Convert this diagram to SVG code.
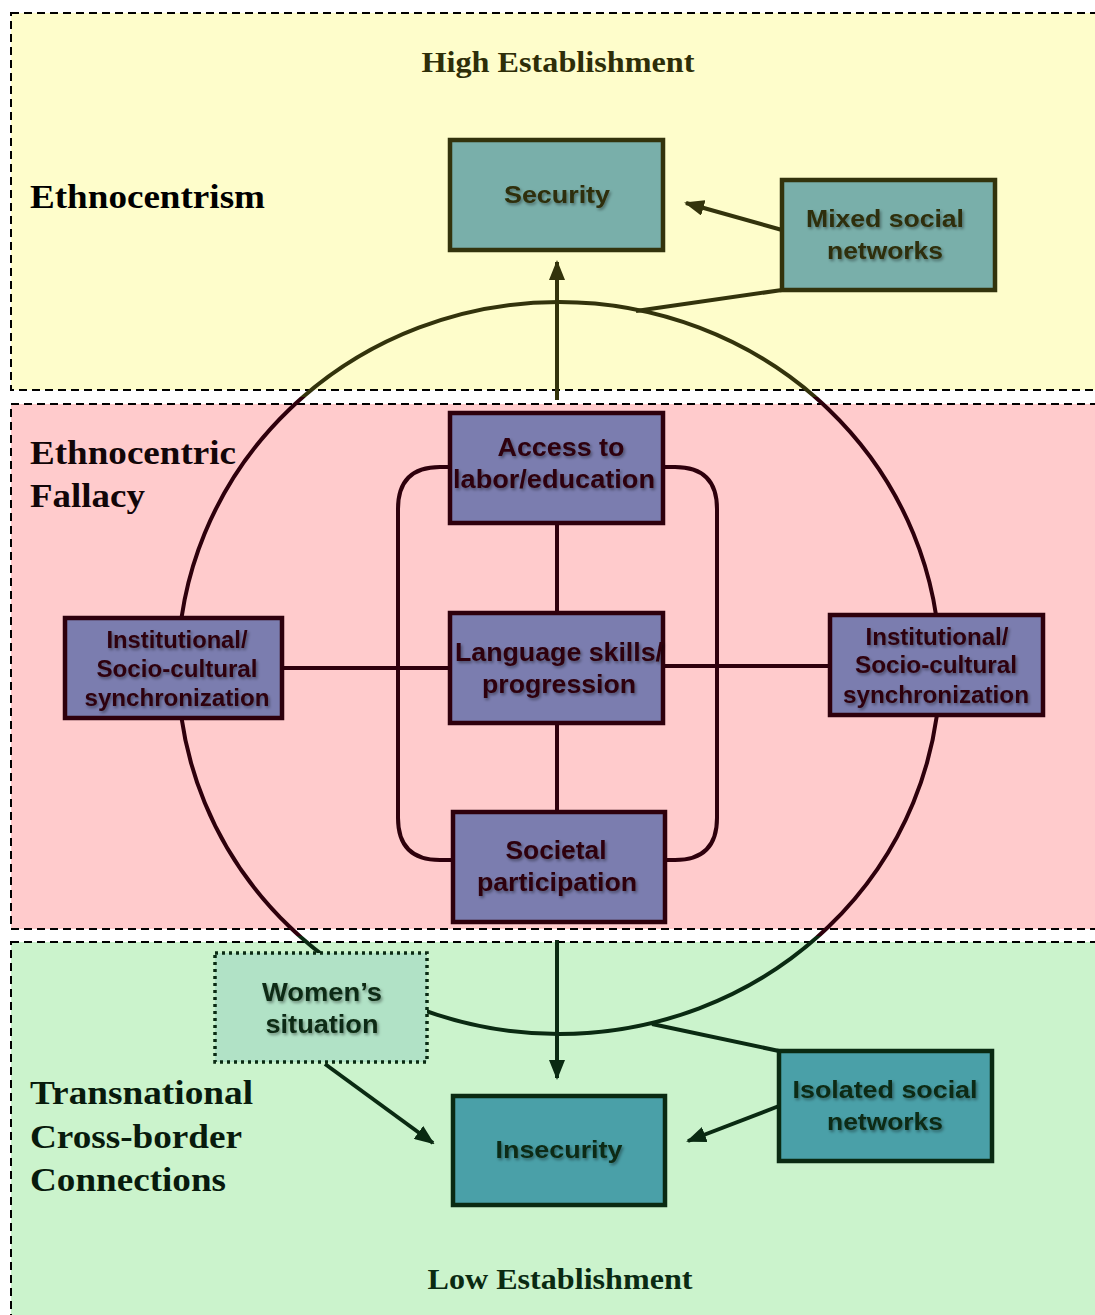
<svg xmlns="http://www.w3.org/2000/svg" width="1095" height="1315" viewBox="0 0 1095 1315">
<style>
.band{stroke:#000;stroke-width:2;stroke-dasharray:8 5}
.lbl{font-family:"Liberation Serif","Times New Roman",serif;font-weight:bold}
.nt{font-family:"Liberation Sans",Arial,sans-serif;font-weight:bold;text-anchor:middle;filter:url(#sh)}
.box{stroke-width:4.5}
.yb{fill:#79AFAA;stroke:#33330C}
.pb{fill:#7B7DAF;stroke:#2E000C}
.gb{fill:#4AA0A8;stroke:#0A2A12}
.ln{fill:none;stroke-width:4}
</style>
<defs>
<filter id="sh" x="-10%" y="-30%" width="120%" height="160%">
<feDropShadow dx="1.5" dy="2" stdDeviation="1.5" flood-color="#000" flood-opacity="0.4"/>
</filter>
<marker id="ay" markerUnits="userSpaceOnUse" markerWidth="20" markerHeight="16" refX="18" refY="8" orient="auto"><path d="M0,0 L20,8 L0,16 z" fill="#33330C"/></marker>
<marker id="ag" markerUnits="userSpaceOnUse" markerWidth="20" markerHeight="16" refX="18" refY="8" orient="auto"><path d="M0,0 L20,8 L0,16 z" fill="#0A2A12"/></marker>
<clipPath id="cy"><rect x="0" y="0" width="1095" height="397"/></clipPath>
<clipPath id="cp"><rect x="0" y="397" width="1095" height="539"/></clipPath>
<clipPath id="cg"><rect x="0" y="936" width="1095" height="400"/></clipPath>
</defs>

<g id="bands">
<rect class="band" x="11" y="13" width="1100" height="377" fill="#FEFDCB"/>
<rect class="band" x="11" y="404" width="1100" height="525" fill="#FFCBCC"/>
<rect class="band" x="11" y="942" width="1100" height="390" fill="#CBF3CC"/>
</g>

<g id="labels">
<text class="lbl" x="558" y="72" font-size="30" text-anchor="middle" fill="#2E2E08" textLength="273" lengthAdjust="spacingAndGlyphs">High Establishment</text>
<text class="lbl" x="30" y="208" font-size="34" fill="#000" textLength="235" lengthAdjust="spacingAndGlyphs">Ethnocentrism</text>
<text class="lbl" x="30" y="464" font-size="34" fill="#120608" textLength="206" lengthAdjust="spacingAndGlyphs">Ethnocentric</text>
<text class="lbl" x="30" y="507" font-size="34" fill="#120608" textLength="115" lengthAdjust="spacingAndGlyphs">Fallacy</text>
<text class="lbl" x="30" y="1104" font-size="34" fill="#081A0C" textLength="223" lengthAdjust="spacingAndGlyphs">Transnational</text>
<text class="lbl" x="30" y="1148" font-size="34" fill="#081A0C" textLength="212" lengthAdjust="spacingAndGlyphs">Cross-border</text>
<text class="lbl" x="30" y="1191" font-size="34" fill="#081A0C" textLength="196" lengthAdjust="spacingAndGlyphs">Connections</text>
<text class="lbl" x="560" y="1289" font-size="30" text-anchor="middle" fill="#0A2A12" textLength="265" lengthAdjust="spacingAndGlyphs">Low Establishment</text>
</g>

<g id="connectors">
<g id="circle" fill="none" stroke-width="4">
<ellipse cx="559" cy="668" rx="381" ry="366" stroke="#33330C" clip-path="url(#cy)"/>
<ellipse cx="559" cy="668" rx="381" ry="366" stroke="#2E000C" clip-path="url(#cp)"/>
<ellipse cx="559" cy="668" rx="381" ry="366" stroke="#0A2A12" clip-path="url(#cg)"/>
</g>
<path class="ln" stroke="#2E000C" d="M450,467 H440 Q398,467 398,509 V818 Q398,860 440,860 H453"/>
<path class="ln" stroke="#2E000C" d="M663,467 H675 Q717,467 717,509 V818 Q717,860 675,860 H665"/>
<line class="ln" stroke="#2E000C" x1="557" y1="523" x2="557" y2="613"/>
<line class="ln" stroke="#2E000C" x1="557" y1="723" x2="557" y2="812"/>
<line class="ln" stroke="#2E000C" x1="282" y1="668" x2="450" y2="668"/>
<line class="ln" stroke="#2E000C" x1="663" y1="666" x2="830" y2="666"/>
<line class="ln" stroke="#33330C" x1="557" y1="400" x2="557" y2="262" marker-end="url(#ay)"/>
<line class="ln" stroke="#33330C" x1="782" y1="230" x2="686" y2="203" marker-end="url(#ay)"/>
<line class="ln" stroke="#33330C" x1="782" y1="290" x2="636" y2="311"/>
<line class="ln" stroke="#0A2A12" x1="557" y1="940" x2="557" y2="1078" marker-end="url(#ag)"/>
<line class="ln" stroke="#0A2A12" x1="325" y1="1064" x2="433" y2="1143" marker-end="url(#ag)"/>
<line class="ln" stroke="#0A2A12" x1="779" y1="1106" x2="688" y2="1141" marker-end="url(#ag)"/>
<line class="ln" stroke="#0A2A12" x1="779" y1="1051" x2="652" y2="1024"/>
</g>

<g id="security">
<rect class="box yb" x="450" y="140" width="213" height="110"/>
<text class="nt" x="557" y="203" font-size="24" fill="#2E2E08" textLength="106" lengthAdjust="spacingAndGlyphs">Security</text>
</g>
<g id="mixed">
<rect class="box yb" x="782" y="180" width="213" height="110"/>
<text class="nt" x="885" y="227" font-size="24" fill="#2E2E08" textLength="158" lengthAdjust="spacingAndGlyphs">Mixed social</text>
<text class="nt" x="885" y="259" font-size="24" fill="#2E2E08" textLength="116" lengthAdjust="spacingAndGlyphs">networks</text>
</g>
<g id="access">
<rect class="box pb" x="450" y="413" width="213" height="110"/>
<text class="nt" x="561" y="456" font-size="25" fill="#2E000C" textLength="127" lengthAdjust="spacingAndGlyphs">Access to</text>
<text class="nt" x="554" y="488" font-size="25" fill="#2E000C" textLength="202" lengthAdjust="spacingAndGlyphs">labor/education</text>
</g>
<g id="language">
<rect class="box pb" x="450" y="613" width="213" height="110"/>
<text class="nt" x="559" y="661" font-size="25" fill="#2E000C" textLength="208" lengthAdjust="spacingAndGlyphs">Language skills/</text>
<text class="nt" x="559" y="693" font-size="25" fill="#2E000C" textLength="154" lengthAdjust="spacingAndGlyphs">progression</text>
</g>
<g id="societal">
<rect class="box pb" x="453" y="812" width="212" height="110"/>
<text class="nt" x="556" y="859" font-size="25" fill="#2E000C" textLength="101" lengthAdjust="spacingAndGlyphs">Societal</text>
<text class="nt" x="557" y="891" font-size="25" fill="#2E000C" textLength="160" lengthAdjust="spacingAndGlyphs">participation</text>
</g>
<g id="inst-left">
<rect class="box pb" x="65" y="618" width="217" height="100"/>
<text class="nt" x="177" y="648" font-size="23" fill="#2E000C" textLength="141" lengthAdjust="spacingAndGlyphs">Institutional/</text>
<text class="nt" x="177" y="677" font-size="23" fill="#2E000C" textLength="161" lengthAdjust="spacingAndGlyphs">Socio-cultural</text>
<text class="nt" x="177" y="706" font-size="23" fill="#2E000C" textLength="185" lengthAdjust="spacingAndGlyphs">synchronization</text>
</g>
<g id="inst-right">
<rect class="box pb" x="830" y="615" width="213" height="100"/>
<text class="nt" x="937" y="645" font-size="23" fill="#2E000C" textLength="143" lengthAdjust="spacingAndGlyphs">Institutional/</text>
<text class="nt" x="936" y="673" font-size="23" fill="#2E000C" textLength="162" lengthAdjust="spacingAndGlyphs">Socio-cultural</text>
<text class="nt" x="936" y="703" font-size="23" fill="#2E000C" textLength="186" lengthAdjust="spacingAndGlyphs">synchronization</text>
</g>
<g id="women">
<rect x="215" y="953" width="212" height="109" fill="#B1E2C6" stroke="#0A2A12" stroke-width="3.5" stroke-dasharray="3 4"/>
<text class="nt" x="322" y="1001" font-size="25" fill="#0A2A12" textLength="120" lengthAdjust="spacingAndGlyphs">Women’s</text>
<text class="nt" x="322" y="1033" font-size="25" fill="#0A2A12" textLength="113" lengthAdjust="spacingAndGlyphs">situation</text>
</g>
<g id="insecurity">
<rect class="box gb" x="453" y="1096" width="212" height="109"/>
<text class="nt" x="559" y="1158" font-size="24" fill="#0A2A12" textLength="127" lengthAdjust="spacingAndGlyphs">Insecurity</text>
</g>
<g id="isolated">
<rect class="box gb" x="779" y="1051" width="213" height="110"/>
<text class="nt" x="885" y="1098" font-size="24" fill="#0A2A12" textLength="185" lengthAdjust="spacingAndGlyphs">Isolated social</text>
<text class="nt" x="885" y="1130" font-size="24" fill="#0A2A12" textLength="116" lengthAdjust="spacingAndGlyphs">networks</text>
</g>
</svg>
